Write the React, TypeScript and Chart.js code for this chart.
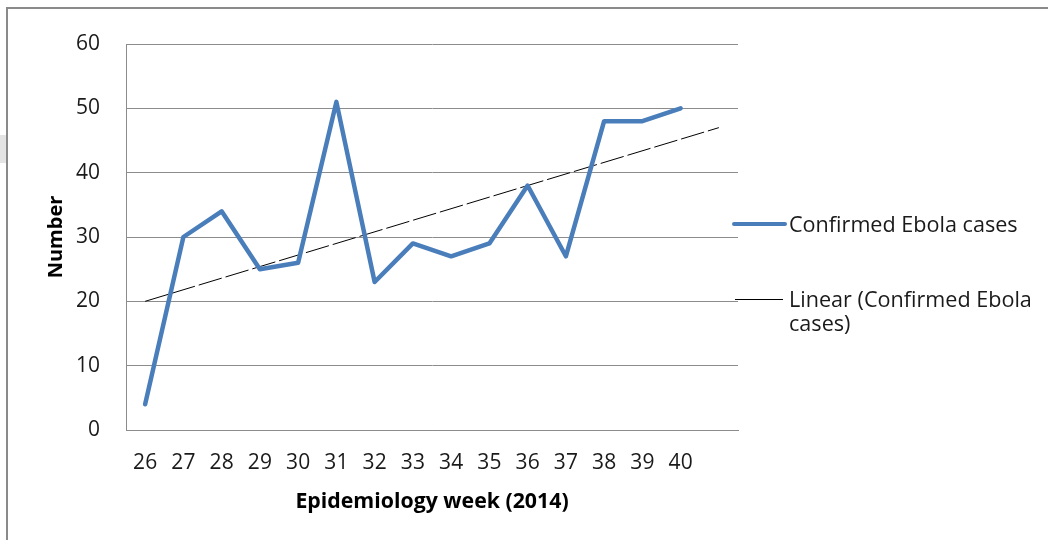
import React, { useEffect, useRef } from "react";
import { Chart, registerables } from "chart.js";

Chart.register(...registerables);

const weeks = ["26", "27", "28", "29", "30", "31", "32", "33", "34", "35", "36", "37", "38", "39", "40", ""];
const confirmedCases = [4, 30, 34, 25, 26, 51, 23, 29, 27, 29, 38, 27, 48, 48, 50, null];
// Linear trend: value at week 26 and at the forecast end
const trendStart = 20;
const trendEnd = 47;
const yTicks = [0, 10, 20, 30, 40, 50, 60];

const seriesLabel = "Confirmed Ebola cases";
const trendLabel = "Linear (Confirmed Ebola cases)";
const xTitle = "Epidemiology week (2014)";
const yTitle = "Number";

const FONT = "'Open Sans', sans-serif";
const BLUE = "#4A7EBB";
const GRID = "#8c8c8c";

const trendData: (number | null)[] = weeks.map((_, i) =>
  i === 0 ? trendStart : i === weeks.length - 1 ? trendEnd : null
);

const legendPlugin = {
  id: "customLegend",
  afterDraw(chart: any) {
    const ctx = chart.ctx;
    ctx.save();
    ctx.font = `21.6px ${FONT}`;
    ctx.fillStyle = "#1a1a1a";
    ctx.textBaseline = "alphabetic";
    ctx.textAlign = "left";
    // entry 1
    ctx.strokeStyle = BLUE;
    ctx.lineWidth = 4;
    ctx.lineCap = "round";
    ctx.beginPath();
    ctx.moveTo(734, 224);
    ctx.lineTo(785, 224);
    ctx.stroke();
    ctx.fillText(chart.data.datasets[0].label, 789, 232);
    // entry 2
    ctx.strokeStyle = "#000";
    ctx.lineWidth = 1;
    ctx.lineCap = "butt";
    ctx.beginPath();
    ctx.moveTo(735, 299.5);
    ctx.lineTo(783, 299.5);
    ctx.stroke();
    const words = String(chart.data.datasets[1].label).split(" ");
    const lines: string[] = [];
    let cur = "";
    for (const w of words) {
      const t = cur ? cur + " " + w : w;
      if (ctx.measureText(t).width > 256 && cur) {
        lines.push(cur);
        cur = w;
      } else cur = t;
    }
    if (cur) lines.push(cur);
    lines.forEach((l, i) => ctx.fillText(l, 789, 307 + i * 24));
    ctx.restore();
  },
};

export default function App() {
  const ref = useRef<HTMLCanvasElement | null>(null);
  useEffect(() => {
    document.body.style.margin = "0";
    const chart = new Chart(ref.current as HTMLCanvasElement, {
      type: "line",
      data: {
        labels: weeks,
        datasets: [
          {
            label: seriesLabel,
            data: confirmedCases,
            borderColor: BLUE,
            borderWidth: 4.5,
            pointRadius: 0,
            borderJoinStyle: "round",
            borderCapStyle: "round",
            tension: 0,
            spanGaps: false,
          },
          {
            label: trendLabel,
            data: trendData,
            borderColor: "#000",
            borderWidth: 1,
            borderDash: [24, 4],
            pointRadius: 0,
            spanGaps: true,
            tension: 0,
          },
        ],
      },
      options: {
        animation: false,
        responsive: false,
        maintainAspectRatio: false,
        layout: { padding: { top: 44, right: 310, left: 0, bottom: 0 } },
        plugins: { legend: { display: false }, tooltip: { enabled: false } },
        scales: {
          x: {
            type: "category",
            offset: true,
            grid: { display: false, drawTicks: false },
            border: { display: true, color: GRID, width: 1 },
            ticks: {
              font: { family: FONT, size: 21 },
              color: "#1a1a1a",
              padding: 20,
              maxRotation: 0,
              autoSkip: false,
            },
            title: {
              display: true,
              text: xTitle,
              font: { family: FONT, size: 21.3, weight: "bold" },
              color: "#000",
              padding: { top: 0, bottom: 25 },
            },
            afterFit: (s: any) => {
              s.height = 540 - 430;
            },
          },
          y: {
            min: 0,
            max: 60,
            afterBuildTicks: (s: any) => {
              s.ticks = yTicks.map((v) => ({ value: v }));
            },
            grid: { color: GRID, lineWidth: 1, drawTicks: false },
            border: { display: true, color: GRID, width: 1 },
            ticks: {
              font: { family: FONT, size: 21 },
              color: "#1a1a1a",
              padding: 26,
            },
            title: {
              display: true,
              text: yTitle,
              font: { family: FONT, size: 20, weight: "bold" },
              color: "#000",
              padding: { top: 44, bottom: 0 },
            },
            afterFit: (s: any) => {
              s.width = 126;
            },
          },
        },
      },
      plugins: [legendPlugin],
    });
    return () => chart.destroy();
  }, []);
  return (
    <div style={{ position: "relative", width: 1048, height: 540, background: "#fff", overflow: "hidden" }}>
      <div style={{ position: "absolute", left: 0, top: 135, width: 6, height: 28, background: "#e4e4e4" }} />
      <div
        style={{
          position: "absolute",
          left: 6,
          top: 7,
          width: 1100,
          height: 600,
          borderTop: "2px solid #8a8a8a",
          borderLeft: "2px solid #8a8a8a",
        }}
      />
      <canvas ref={ref} width={1048} height={540} style={{ position: "absolute", left: 0, top: 0 }} />
    </div>
  );
}
